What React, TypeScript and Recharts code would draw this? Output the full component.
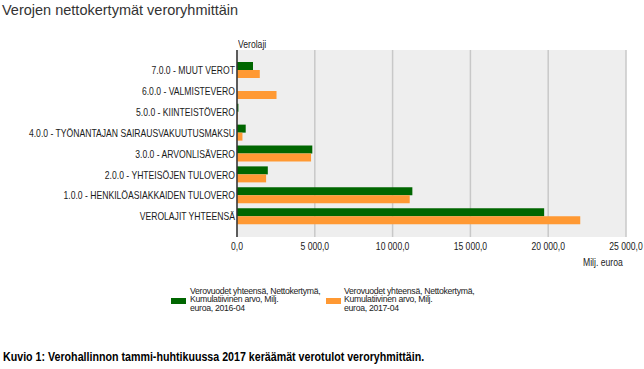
import { BarChart, Bar, XAxis, YAxis, CartesianGrid } from 'recharts';

const categories = [
  '7.0.0 - MUUT VEROT',
  '6.0.0 - VALMISTEVERO',
  '5.0.0 - KIINTEISTÖVERO',
  '4.0.0 - TYÖNANTAJAN SAIRAUSVAKUUTUSMAKSU',
  '3.0.0 - ARVONLISÄVERO',
  '2.0.0 - YHTEISÖJEN TULOVERO',
  '1.0.0 - HENKILÖASIAKKAIDEN TULOVERO',
  'VEROLAJIT YHTEENSÄ',
];
const values2016 = [1030, 0, 90, 560, 4840, 1980, 11270, 19740];
const values2017 = [1465, 2540, 50, 350, 4760, 1870, 11100, 22060];
const xTicks = [0, 5000, 10000, 15000, 20000, 25000];

const seriesNames = [
  'Verovuodet yhteensä, Nettokertymä, Kumulatiivinen arvo, Milj. euroa, 2016-04',
  'Verovuodet yhteensä, Nettokertymä, Kumulatiivinen arvo, Milj. euroa, 2017-04',
];
const legendLines = [
  ['Verovuodet yhteensä, Nettokertymä,', 'Kumulatiivinen arvo, Milj.', 'euroa, 2016-04'],
  ['Verovuodet yhteensä, Nettokertymä,', 'Kumulatiivinen arvo, Milj.', 'euroa, 2017-04'],
];

const GREEN = '#006600';
const ORANGE = '#ff9933';
const FONT = 'Arial, "Liberation Sans", sans-serif';
const SQUEEZE = 0.82;

const data = categories.map((c, i) => ({
  name: c,
  v2016: values2016[i],
  v2017: values2017[i],
}));

const fmt = (v: number) => {
  const [i, d] = v.toFixed(1).split('.');
  return i.replace(/\B(?=(\d{3})+(?!\d))/g, ' ') + ',' + d;
};

// narrow-looking tick text (the reference uses a condensed face)
function SqueezedTick(props: any) {
  const { x, y, payload, textAnchor, vertical, tickFormatter } = props;
  const label = tickFormatter ? tickFormatter(payload.value) : payload.value;
  return (
    <g transform={`translate(${x},${y}) scale(${SQUEEZE},1)`}>
      <text
        x={0}
        y={0}
        dy={vertical ? '0.355em' : '0.71em'}
        textAnchor={textAnchor}
        fontFamily={FONT}
        fontSize={10.5}
        fill="#1a1a1a"
      >
        {label}
      </text>
    </g>
  );
}

const squeezed = (extra: any = {}) => ({
  display: 'inline-block',
  transform: `scaleX(${SQUEEZE})`,
  transformOrigin: 'left top',
  whiteSpace: 'nowrap' as const,
  ...extra,
});

export default function App() {
  return (
    <div
      style={{
        position: 'absolute',
        left: 0,
        top: 0,
        width: 644,
        height: 369,
        background: '#fff',
        fontFamily: FONT,
        color: '#222',
      }}
    >
      <div style={{ position: 'absolute', left: 2, top: 2, fontSize: 14.5, color: '#333' }}>
        Verojen nettokertymät veroryhmittäin
      </div>
      <div style={{ position: 'absolute', left: 238, top: 38, fontSize: 10.5 }}>
        <span style={squeezed()}>Verolaji</span>
      </div>

      <div style={{ position: 'absolute', left: 0, top: 0 }}>
        <BarChart
          width={644}
          height={275}
          data={data}
          layout="vertical"
          margin={{ top: 50, right: 18, bottom: 8, left: 0 }}
          barGap={0}
          barSize={8}
        >
          <CartesianGrid horizontal={false} fill="#eeeeee" stroke="#c8c8c8" strokeWidth={1.5} />
          <XAxis
            type="number"
            domain={[0, 25000]}
            ticks={xTicks}
            tickFormatter={fmt}
            axisLine={false}
            tickLine={false}
            tickSize={6}
            tickMargin={0}
            height={30}
            tick={<SqueezedTick />}
            interval={0}
          />
          <YAxis
            type="category"
            dataKey="name"
            width={237}
            axisLine={{ stroke: '#333', strokeWidth: 1.5 }}
            tickLine={false}
            tickSize={0}
            tickMargin={2}
            padding={{ top: 10, bottom: 10 }}
            tick={<SqueezedTick vertical />}
            interval={0}
          />
          <Bar dataKey="v2016" name={seriesNames[0]} fill={GREEN} isAnimationActive={false} />
          <Bar dataKey="v2017" name={seriesNames[1]} fill={ORANGE} isAnimationActive={false} />
        </BarChart>
      </div>

      <div style={{ position: 'absolute', left: 583, top: 256, fontSize: 10.5 }}>
        <span style={squeezed()}>Milj. euroa</span>
      </div>

      {[GREEN, ORANGE].map((c, k) => (
        <div key={k} style={{ position: 'absolute', left: k === 0 ? 171 : 326, top: 286 }}>
          <div style={{ position: 'absolute', left: 0, top: 12, width: 15, height: 6, background: c }} />
          <div
            style={{
              position: 'absolute',
              left: k === 0 ? 19 : 18,
              top: 0.5,
              fontSize: 8.7,
              lineHeight: '8.7px',
              letterSpacing: -0.3,
              whiteSpace: 'nowrap',
            }}
          >
            {legendLines[k].map((l) => (
              <div key={l}>{l}</div>
            ))}
          </div>
        </div>
      ))}

      <div style={{ position: 'absolute', left: 3, top: 349, fontSize: 13, fontWeight: 'bold', color: '#000' }}>
        <span style={squeezed()}>Kuvio 1: Verohallinnon tammi-huhtikuussa 2017 keräämät verotulot veroryhmittäin.</span>
      </div>
    </div>
  );
}
